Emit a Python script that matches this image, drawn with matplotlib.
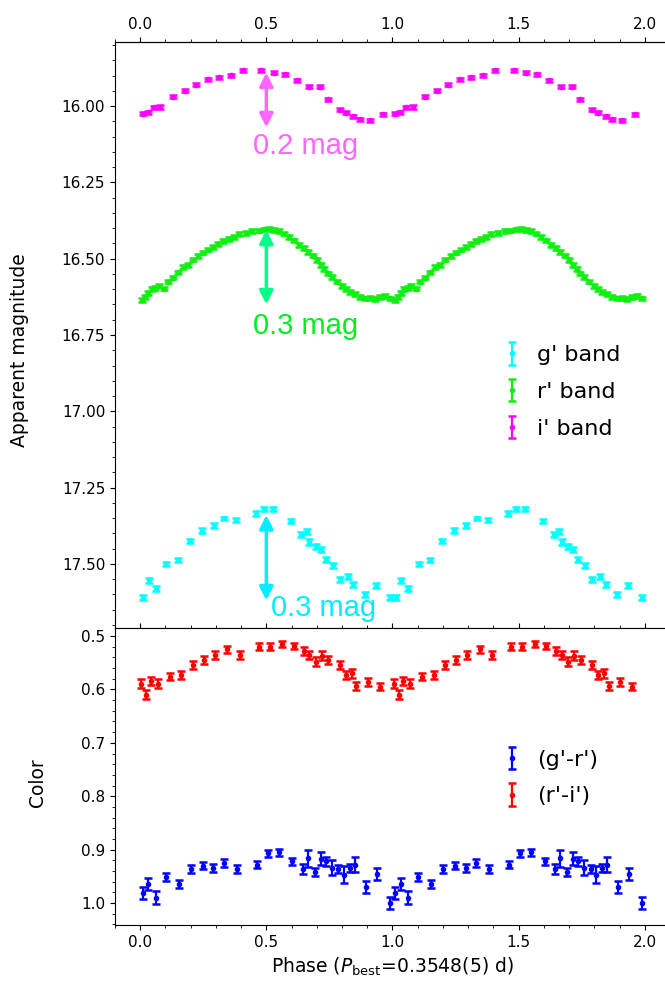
import numpy as np
import matplotlib
matplotlib.use('Agg')
import matplotlib.pyplot as plt
from matplotlib.ticker import MultipleLocator

# phased light curves (one cycle, plotted twice)
g_phase = [0.012, 0.035, 0.062, 0.104, 0.150, 0.197, 0.245, 0.292, 0.334, 0.380, 0.458,
           0.490, 0.525, 0.596, 0.639, 0.662, 0.670, 0.695, 0.716, 0.737, 0.765, 0.790,
           0.822, 0.845, 0.890, 0.935, 0.990]
g_mag = [17.611, 17.553, 17.581, 17.500, 17.488, 17.426, 17.391, 17.374, 17.351, 17.357, 17.335,
         17.320, 17.320, 17.360, 17.404, 17.393, 17.429, 17.442, 17.453, 17.486, 17.505, 17.551,
         17.542, 17.567, 17.600, 17.571, 17.611]
g_err = [0.008, 0.008, 0.008, 0.007, 0.007, 0.007, 0.007, 0.007, 0.006, 0.006, 0.007,
         0.006, 0.006, 0.007, 0.008, 0.008, 0.009, 0.008, 0.008, 0.008, 0.008, 0.009,
         0.008, 0.009, 0.008, 0.008, 0.008]

r_phase = [0.008, 0.020, 0.032, 0.045, 0.060, 0.075, 0.095, 0.110, 0.130, 0.150, 0.170,
           0.190, 0.210, 0.230, 0.250, 0.270, 0.290, 0.310, 0.330, 0.350, 0.370, 0.390,
           0.420, 0.445, 0.470, 0.490, 0.510, 0.530, 0.550, 0.570, 0.590, 0.610, 0.630,
           0.650, 0.665, 0.685, 0.700, 0.715, 0.730, 0.745, 0.760, 0.780, 0.800, 0.815,
           0.830, 0.850, 0.870, 0.890, 0.910, 0.930, 0.950, 0.970, 0.990]
r_mag = [16.635, 16.625, 16.612, 16.600, 16.595, 16.588, 16.598, 16.575, 16.562, 16.545, 16.528,
         16.520, 16.503, 16.492, 16.480, 16.470, 16.462, 16.452, 16.441, 16.436, 16.428, 16.420,
         16.415, 16.410, 16.408, 16.404, 16.402, 16.405, 16.410, 16.418, 16.428, 16.440, 16.455,
         16.466, 16.478, 16.490, 16.505, 16.520, 16.533, 16.548, 16.560, 16.575, 16.590, 16.600,
         16.610, 16.615, 16.625, 16.630, 16.628, 16.632, 16.625, 16.622, 16.630]
r_err = [0.006, 0.006, 0.006, 0.006, 0.006, 0.006, 0.006, 0.006, 0.006, 0.006, 0.006,
         0.006, 0.006, 0.006, 0.006, 0.006, 0.006, 0.006, 0.006, 0.006, 0.006, 0.006,
         0.006, 0.006, 0.006, 0.006, 0.006, 0.006, 0.006, 0.006, 0.006, 0.006, 0.006,
         0.006, 0.006, 0.006, 0.006, 0.006, 0.006, 0.006, 0.006, 0.006, 0.006, 0.006,
         0.006, 0.006, 0.006, 0.006, 0.006, 0.006, 0.006, 0.006, 0.006]

i_phase = [0.010, 0.030, 0.055, 0.080, 0.130, 0.178, 0.222, 0.268, 0.312, 0.360, 0.407,
           0.480, 0.530, 0.574, 0.620, 0.668, 0.712, 0.745, 0.790, 0.815, 0.845, 0.870,
           0.910, 0.962]
i_mag = [16.025, 16.020, 16.004, 16.003, 15.970, 15.950, 15.930, 15.912, 15.906, 15.899, 15.883,
         15.882, 15.891, 15.895, 15.915, 15.936, 15.936, 15.978, 16.012, 16.022, 16.033, 16.043,
         16.046, 16.026]
i_err = [0.005, 0.005, 0.005, 0.005, 0.005, 0.005, 0.005, 0.005, 0.005, 0.005, 0.005,
         0.005, 0.005, 0.005, 0.005, 0.005, 0.005, 0.005, 0.005, 0.005, 0.005, 0.005,
         0.005, 0.005]

# colours
ri_phase = [0.005, 0.024, 0.043, 0.071, 0.117, 0.163, 0.210, 0.253, 0.296, 0.346, 0.396,
            0.471, 0.514, 0.563, 0.610, 0.649, 0.671, 0.696, 0.720, 0.746, 0.791, 0.814,
            0.839, 0.857, 0.903, 0.949]
ri_val = [0.589, 0.610, 0.584, 0.589, 0.576, 0.573, 0.554, 0.545, 0.536, 0.525, 0.536,
          0.520, 0.520, 0.515, 0.519, 0.528, 0.536, 0.548, 0.537, 0.545, 0.554, 0.573,
          0.570, 0.594, 0.586, 0.595]
ri_err = [0.008, 0.008, 0.008, 0.008, 0.007, 0.007, 0.007, 0.007, 0.007, 0.006, 0.007,
          0.007, 0.007, 0.006, 0.006, 0.007, 0.007, 0.008, 0.008, 0.007, 0.007, 0.008,
          0.008, 0.008, 0.007, 0.007]

gr_phase = [0.010, 0.032, 0.063, 0.103, 0.154, 0.201, 0.247, 0.290, 0.333, 0.383, 0.462,
            0.505, 0.551, 0.603, 0.646, 0.666, 0.692, 0.717, 0.735, 0.760, 0.785, 0.806,
            0.832, 0.852, 0.895, 0.938, 0.990]
gr_val = [0.981, 0.964, 0.990, 0.951, 0.964, 0.936, 0.930, 0.934, 0.925, 0.936, 0.928,
          0.907, 0.905, 0.922, 0.936, 0.916, 0.942, 0.917, 0.922, 0.934, 0.936, 0.947,
          0.934, 0.928, 0.970, 0.945, 1.000]
gr_err = [0.012, 0.011, 0.012, 0.008, 0.008, 0.008, 0.007, 0.007, 0.007, 0.007, 0.007,
          0.007, 0.007, 0.007, 0.010, 0.016, 0.008, 0.012, 0.008, 0.014, 0.008, 0.016,
          0.008, 0.014, 0.012, 0.011, 0.012]


def two_cycles(ph, val, err):
    ph = np.asarray(ph)
    return (np.concatenate([ph, ph + 1]), np.concatenate([val, val]),
            np.concatenate([err, err]))


fig = plt.figure(figsize=(6.65, 9.86), dpi=100)
ax1 = fig.add_axes([0.1729, 0.3631, 0.8346, 0.5943])
ax2 = fig.add_axes([0.1729, 0.0619, 0.8346, 0.3012])

eb = dict(fmt='.', ms=6, capsize=3.2, elinewidth=1.6, capthick=1.8)

x, y, e = two_cycles(i_phase, i_mag, i_err)
h_i = ax1.errorbar(x, y, yerr=e, color='magenta', label="i' band", **eb)
x, y, e = two_cycles(r_phase, r_mag, r_err)
h_r = ax1.errorbar(x, y, yerr=e, color='#11ee11', label="r' band", **eb)
x, y, e = two_cycles(g_phase, g_mag, g_err)
h_g = ax1.errorbar(x, y, yerr=e, color='cyan', label="g' band", **eb)

ax1.set_xlim(-0.1, 2.1)
ax1.set_ylim(17.71, 15.79)
ax1.yaxis.set_major_locator(MultipleLocator(0.25))
ax1.yaxis.set_minor_locator(MultipleLocator(0.05))
ax1.xaxis.set_major_locator(MultipleLocator(0.5))
ax1.xaxis.set_minor_locator(MultipleLocator(0.1))
ax1.tick_params(axis='x', which='both', direction='in', labelbottom=False)
ax1.tick_params(axis='y', labelsize=11)
ax1.set_ylabel('Apparent magnitude', fontsize=13.5)
ax1.yaxis.set_label_coords(-0.155, 0.474)

sec = ax1.secondary_xaxis('top')
sec.xaxis.set_major_locator(MultipleLocator(0.5))
sec.xaxis.set_minor_locator(MultipleLocator(0.1))
sec.tick_params(labelsize=11)

# amplitude arrows
arr = dict(arrowstyle='<|-|>', lw=2.5, mutation_scale=20, shrinkA=0, shrinkB=0)
ax1.annotate('', xy=(0.5, 16.07), xytext=(0.5, 15.89),
             arrowprops=dict(color='#ff66ff', **arr))
ax1.text(0.448, 16.132, '0.2 mag', color='#ff66ff', fontsize=21,
         family='Liberation Sans', va='center')
ax1.annotate('', xy=(0.5, 16.65), xytext=(0.5, 16.405),
             arrowprops=dict(color='#00ff88', **arr))
ax1.text(0.448, 16.72, '0.3 mag', color='#00ee22', fontsize=21,
         family='Liberation Sans', va='center')
ax1.annotate('', xy=(0.5, 17.62), xytext=(0.5, 17.34),
             arrowprops=dict(color='#00eeff', **arr))
ax1.text(0.519, 17.645, '0.3 mag', color='#00eeff', fontsize=21,
         family='Liberation Sans', va='center', clip_on=False, zorder=10)

ax1.legend([h_g, h_r, h_i], ["g' band", "r' band", "i' band"], loc='center left',
           bbox_to_anchor=(0.676, 0.403), frameon=False, fontsize=16,
           handlelength=1.0, handletextpad=0.6, borderpad=0, labelspacing=0.75)

x, y, e = two_cycles(gr_phase, gr_val, gr_err)
h_gr = ax2.errorbar(x, y, yerr=e, color='blue', **eb)
x, y, e = two_cycles(ri_phase, ri_val, ri_err)
h_ri = ax2.errorbar(x, y, yerr=e, color='red', **eb)

ax2.set_xlim(-0.1, 2.1)
ax2.set_ylim(1.041, 0.485)
ax2.yaxis.set_major_locator(MultipleLocator(0.1))
ax2.yaxis.set_minor_locator(MultipleLocator(0.02))
ax2.xaxis.set_major_locator(MultipleLocator(0.5))
ax2.xaxis.set_minor_locator(MultipleLocator(0.1))
ax2.tick_params(labelsize=11)
ax2.set_ylabel('Color', fontsize=13.5)
ax2.yaxis.set_label_coords(-0.122, 0.478)
ax2.set_xlabel(r'Phase ($P_{\rm best}$=0.3548(5) d)', fontsize=13.5)
ax2.legend([h_gr, h_ri], ["(g'-r')", "(r'-i')"], loc='center left',
           bbox_to_anchor=(0.676, 0.495), frameon=False, fontsize=16,
           handlelength=1.0, handletextpad=0.6, borderpad=0, labelspacing=0.75)

fig.savefig('out.png', dpi=100)
